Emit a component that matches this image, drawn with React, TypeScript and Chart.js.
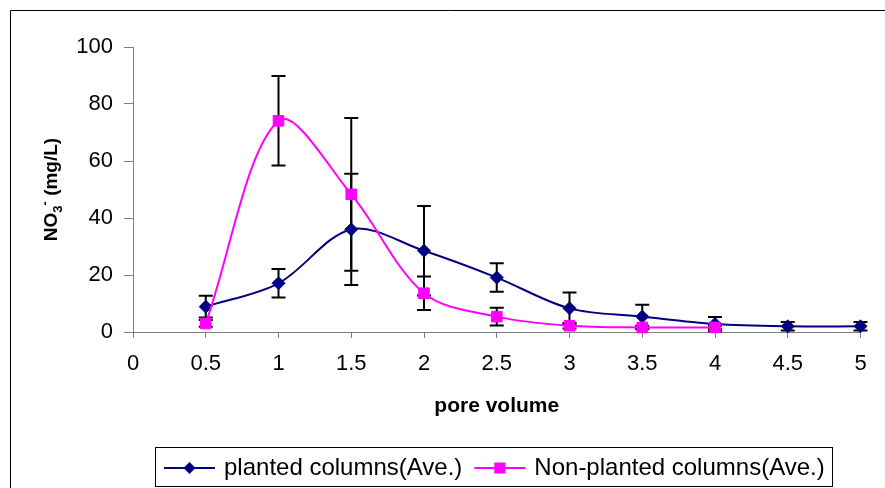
import React, { useEffect, useRef } from "react";
import { Chart, registerables } from "chart.js";
Chart.register(...registerables);

const poreVolume = [0.5, 1, 1.5, 2, 2.5, 3, 3.5, 4, 4.5, 5];
const plantedAve = [8.9, 17.1, 36.0, 28.5, 19.1, 8.3, 5.4, 2.8, 2.0, 2.0];
const plantedErr = [3.8, 5.0, 19.5, 15.7, 5.0, 5.6, 4.2, 2.5, 1.5, 1.5];
const nonPlantedAve = [3.0, 74.1, 48.3, 13.6, 5.4, 2.2, 1.6, 1.6];
const nonPlantedErr = [1.2, 15.7, 26.8, 5.9, 3.1, 1.0, 0.6, 0.6];
const xTicks = [0, 0.5, 1, 1.5, 2, 2.5, 3, 3.5, 4, 4.5, 5];
const yTicks = [0, 20, 40, 60, 80, 100];
const seriesLabels = ["planted columns(Ave.)", "Non-planted columns(Ave.)"];
const seriesColors = ["#000080", "#FF00FF"];
const xTitle = "pore volume";
const yTitleMain = "NO";
const yTitleSub = "3";
const yTitleSup = "-";
const yTitleRest = " (mg/L)";

const FONT = "'Liberation Sans', Arial, sans-serif";

const errorBarPlugin = {
  id: "errorBars",
  beforeDatasetsDraw(chart: any) {
    const { ctx, scales } = chart;
    const xs = scales.x;
    const ys = scales.y;
    const sets = [
      { v: plantedAve, e: plantedErr },
      { v: nonPlantedAve, e: nonPlantedErr },
    ];
    ctx.save();
    ctx.strokeStyle = "#000";
    ctx.lineWidth = 2;
    sets.forEach((s) => {
      s.v.forEach((val, j) => {
        const x = xs.getPixelForValue(poreVolume[j]);
        const yt = ys.getPixelForValue(val + s.e[j]);
        const yb = ys.getPixelForValue(val - s.e[j]);
        ctx.beginPath();
        ctx.moveTo(x, yt);
        ctx.lineTo(x, yb);
        ctx.moveTo(x - 7, yt);
        ctx.lineTo(x + 7, yt);
        ctx.moveTo(x - 7, yb);
        ctx.lineTo(x + 7, yb);
        ctx.stroke();
      });
    });
    ctx.restore();
  },
};

const decorPlugin = {
  id: "decor",
  afterDraw(chart: any) {
    const { ctx, chartArea } = chart;
    ctx.save();
    // outer frame
    ctx.strokeStyle = "#000";
    ctx.lineWidth = 1;
    ctx.beginPath();
    ctx.moveTo(10.5, 600);
    ctx.lineTo(10.5, 10.5);
    ctx.lineTo(1000, 10.5);
    ctx.stroke();

    // x title
    ctx.fillStyle = "#000";
    ctx.font = `bold 21px ${FONT}`;
    ctx.textAlign = "center";
    ctx.textBaseline = "middle";
    ctx.fillText(xTitle, (chartArea.left + chartArea.right) / 2, 406);

    // y title (rotated)
    ctx.save();
    ctx.translate(50, (chartArea.top + chartArea.bottom) / 2);
    ctx.rotate(-Math.PI / 2);
    ctx.textAlign = "left";
    ctx.textBaseline = "alphabetic";
    const big = `bold 19px ${FONT}`;
    const small = `bold 13px ${FONT}`;
    ctx.font = big;
    const w1 = ctx.measureText(yTitleMain).width;
    const w4 = ctx.measureText(yTitleRest).width;
    ctx.font = small;
    const w2 = ctx.measureText(yTitleSub).width;
    const w3 = ctx.measureText(yTitleSup).width;
    const total = w1 + w2 + w3 + w4;
    let cx = -total / 2;
    const base = 7;
    ctx.font = big;
    ctx.fillText(yTitleMain, cx, base);
    cx += w1;
    ctx.font = small;
    ctx.fillText(yTitleSub, cx, base + 5);
    cx += w2;
    ctx.fillText(yTitleSup, cx, base - 8);
    cx += w3;
    ctx.font = big;
    ctx.fillText(yTitleRest, cx, base);
    ctx.restore();

    // legend
    ctx.strokeStyle = "#000";
    ctx.lineWidth = 1;
    ctx.strokeRect(155.5, 447.5, 677, 39);
    const ly = 468;
    ctx.font = `24px ${FONT}`;
    ctx.textAlign = "left";
    ctx.textBaseline = "middle";
    let lx = 164;
    seriesLabels.forEach((lab, i) => {
      const col = seriesColors[i];
      ctx.strokeStyle = col;
      ctx.lineWidth = 2;
      ctx.beginPath();
      ctx.moveTo(lx, ly);
      ctx.lineTo(lx + 51, ly);
      ctx.stroke();
      const mx = lx + 25.5;
      ctx.fillStyle = col;
      ctx.beginPath();
      if (i === 0) {
        ctx.moveTo(mx - 6, ly);
        ctx.lineTo(mx, ly - 6);
        ctx.lineTo(mx + 6, ly);
        ctx.lineTo(mx, ly + 6);
        ctx.closePath();
      } else {
        ctx.rect(mx - 5.5, ly - 5.5, 11, 11);
      }
      ctx.fill();
      ctx.fillStyle = "#000";
      const tx = lx + 60;
      ctx.fillText(lab, tx, ly);
      lx = tx + ctx.measureText(lab).width + 12;
    });
    ctx.restore();
  },
};

export default function App() {
  const ref = useRef<HTMLCanvasElement | null>(null);
  useEffect(() => {
    document.body.style.margin = "0";
    if (!ref.current) return;
    const chart = new Chart(ref.current, {
      type: "line",
      data: {
        datasets: [
          {
            label: seriesLabels[0],
            data: poreVolume.map((x, i) => ({ x, y: plantedAve[i] })),
            borderColor: seriesColors[0],
            backgroundColor: seriesColors[0],
            borderWidth: 2,
            pointStyle: "rectRot",
            pointRadius: 6.5,
            pointBorderWidth: 1,
            tension: 0.33,
            order: 1,
            clip: false,
          },
          {
            label: seriesLabels[1],
            data: nonPlantedAve.map((y, i) => ({ x: poreVolume[i], y })),
            borderColor: seriesColors[1],
            backgroundColor: seriesColors[1],
            borderWidth: 2,
            pointStyle: "rect",
            pointRadius: 7.5,
            pointBorderWidth: 1,
            tension: 0.33,
            order: 0,
            clip: false,
          },
        ],
      },
      options: {
        responsive: false,
        animation: false,
        events: [],
        layout: { padding: { top: 47, right: 24.5, left: 0, bottom: 0 } },
        plugins: { legend: { display: false }, tooltip: { enabled: false } },
        scales: {
          x: {
            type: "linear",
            min: 0,
            max: 5,
            afterBuildTicks: (s: any) => {
              s.ticks = xTicks.map((v) => ({ value: v }));
            },
            afterFit: (s: any) => {
              s.height = 156;
            },
            ticks: {
              autoSkip: false,
              maxRotation: 0,
              color: "#000",
              padding: 13,
              font: { family: FONT, size: 22 },
              callback: (v: any) => String(v),
            },
            grid: {
              display: true,
              drawOnChartArea: false,
              drawTicks: true,
              tickLength: 6,
              color: "#808080",
            },
            border: { display: true, color: "#808080", width: 1 },
          },
          y: {
            type: "linear",
            min: 0,
            max: 100,
            afterBuildTicks: (s: any) => {
              s.ticks = yTicks.map((v) => ({ value: v }));
            },
            afterFit: (s: any) => {
              s.width = 133;
            },
            ticks: {
              color: "#000",
              padding: 11,
              font: { family: FONT, size: 22 },
              callback: (v: any) => String(v),
            },
            grid: {
              display: true,
              drawOnChartArea: false,
              drawTicks: true,
              tickLength: 9,
              color: "#808080",
            },
            border: { display: true, color: "#808080", width: 1 },
          },
        },
      },
      plugins: [errorBarPlugin, decorPlugin],
    } as any);
    return () => chart.destroy();
  }, []);
  return (
    <div style={{ width: 885, height: 488, background: "#fff" }}>
      <canvas ref={ref} width={885} height={488} style={{ display: "block" }} />
    </div>
  );
}
